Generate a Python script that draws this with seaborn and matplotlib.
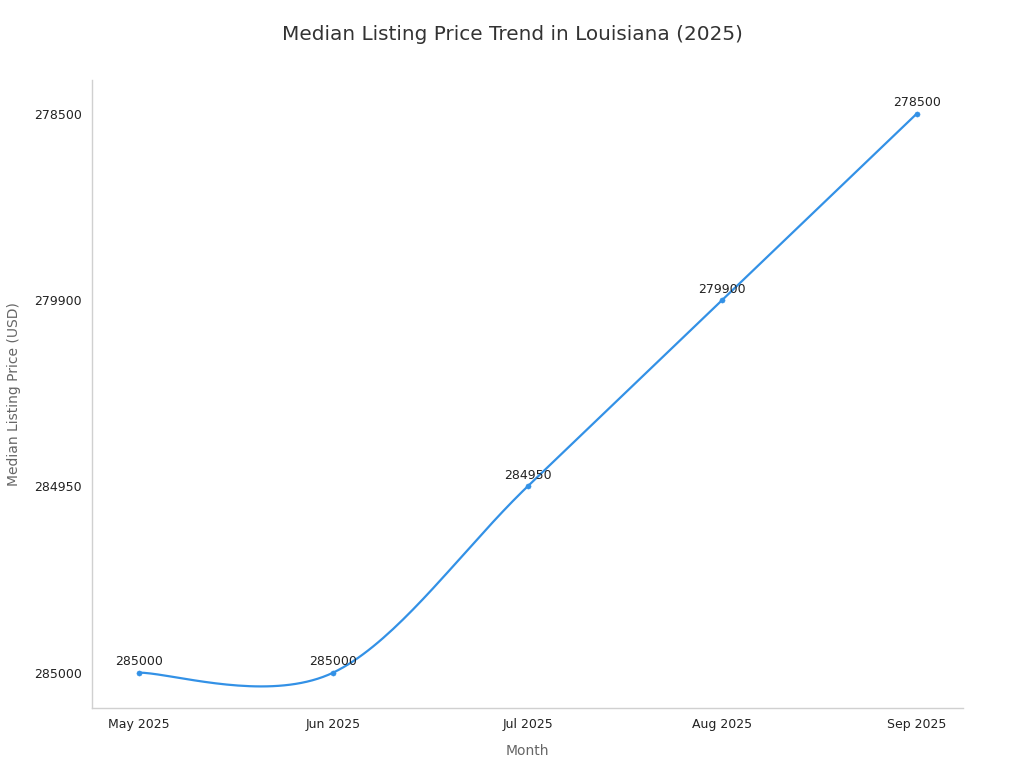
import numpy as np
import pandas as pd
import matplotlib
matplotlib.use("Agg")
import matplotlib.pyplot as plt
import seaborn as sns

months = ["May 2025", "Jun 2025", "Jul 2025", "Aug 2025", "Sep 2025"]
prices = ["285000", "285000", "284950", "279900", "278500"]

# the y axis is categorical, ordered by first appearance
levels = list(dict.fromkeys(prices))
df = pd.DataFrame({"month": months, "price": prices})
df["x"] = np.arange(len(months))
df["y"] = [levels.index(p) for p in prices]


def catmull_rom(xs, ys, n=40):
    px = np.concatenate([[xs[0]], xs, [xs[-1]]]).astype(float)
    py = np.concatenate([[ys[0]], ys, [ys[-1]]]).astype(float)
    outx, outy = [], []
    t = np.linspace(0, 1, n)
    h00 = 2 * t**3 - 3 * t**2 + 1
    h10 = t**3 - 2 * t**2 + t
    h01 = -2 * t**3 + 3 * t**2
    h11 = t**3 - t**2
    for i in range(1, len(px) - 2):
        mx0 = (px[i + 1] - px[i - 1]) / 2
        mx1 = (px[i + 2] - px[i]) / 2
        my0 = (py[i + 1] - py[i - 1]) / 2
        my1 = (py[i + 2] - py[i]) / 2
        outx.append(h00 * px[i] + h10 * mx0 + h01 * px[i + 1] + h11 * mx1)
        outy.append(h00 * py[i] + h10 * my0 + h01 * py[i + 1] + h11 * my1)
    return np.concatenate(outx), np.concatenate(outy)


sns.set_theme(style="white")
plt.rcParams["font.family"] = ["DejaVu Sans"]

color = "#3391e6"
fig = plt.figure(figsize=(10.24, 7.68), dpi=100)
ax = fig.add_axes([0.0898, 0.0781, 0.8506, 0.8177])

sx, sy = catmull_rom(df["x"].values, df["y"].values)
ax.plot(sx, sy, color=color, linewidth=1.6)
sns.scatterplot(data=df, x="x", y="y", color=color, s=14, edgecolor=color, ax=ax, zorder=3)

for _, r in df.iterrows():
    ax.annotate(r["price"], (r["x"], r["y"]), xytext=(0, 3), textcoords="offset points",
                ha="center", va="bottom", fontsize=9, color="#222222")

ax.set_xlim(-0.24, 4.237)
ax.set_ylim(-0.19, 3.18)
ax.set_xticks(df["x"], months)
ax.set_yticks(range(len(levels)), levels)
ax.tick_params(axis="both", length=4, width=0.8, color="#333333", labelsize=9, labelcolor="#222222")

for s in ["top", "right"]:
    ax.spines[s].set_visible(False)
for s in ["left", "bottom"]:
    ax.spines[s].set_color("#d0d0d0")
    ax.spines[s].set_linewidth(1)

ax.set_xlabel("Month", fontsize=10, color="#666666", labelpad=9)
ax.set_ylabel("Median Listing Price (USD)", fontsize=10, color="#666666", labelpad=9)
fig.suptitle("Median Listing Price Trend in Louisiana (2025)", fontsize=14.4, color="#333333", y=0.968)

fig.savefig("out.png", dpi=100)
